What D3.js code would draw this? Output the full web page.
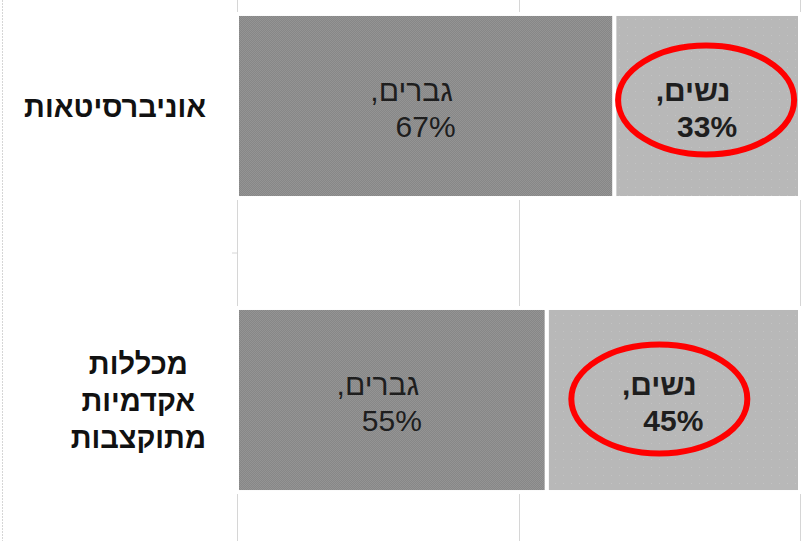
<!DOCTYPE html>
<html lang="he">
<head>
<meta charset="utf-8">
<script src="https://cdn.jsdelivr.net/npm/d3@7"></script>
<style>
  body { margin: 0; background: #fff; }
  svg { display: block; font-family: "Liberation Sans", Arial, sans-serif; }
</style>
</head>
<body>
<div id="chart"></div>
<script>
// data
var categories = ["אוניברסיטאות", "מכללות אקדמיות מתוקצבות"];
var categoryLines = [["אוניברסיטאות"], ["מכללות", "אקדמיות", "מתוקצבות"]];
var seriesNames = ["נשים", "גברים"];
var women = [33, 45];
var men = [67, 55];
var xTicks = [0, 50, 100];
// hand-drawn red circles, offset from the women segment centre
var circleOffsets = [{dx: -1, dy: -6}, {dx: -14, dy: -1}];

var width = 808, height = 541;

var svg = d3.select("#chart").append("svg")
    .attr("width", width)
    .attr("height", height);

var defs = svg.append("defs");
var pm = defs.append("pattern").attr("id", "menFill")
    .attr("patternUnits", "userSpaceOnUse").attr("width", 2).attr("height", 2);
pm.append("rect").attr("width", 2).attr("height", 2).attr("fill", "#878787");
pm.append("rect").attr("width", 1).attr("height", 1).attr("fill", "#949494");
pm.append("rect").attr("x", 1).attr("y", 1).attr("width", 1).attr("height", 1).attr("fill", "#949494");

var pw = defs.append("pattern").attr("id", "womenFill")
    .attr("patternUnits", "userSpaceOnUse").attr("width", 8).attr("height", 8);
pw.append("rect").attr("width", 8).attr("height", 8).attr("fill", "#b8b8b8");
pw.append("rect").attr("x", 3).attr("y", 3).attr("width", 1).attr("height", 1).attr("fill", "#c3c3c3");

// scales (right-to-left value axis)
var x = d3.scaleLinear().domain([0, 100]).range([800, 237]);
var y = d3.scaleBand().domain(categories).range([-96, 602])
    .paddingInner(0.374).paddingOuter(0.374);

// chart border on the left
svg.append("line")
    .attr("x1", 2.5).attr("x2", 2.5).attr("y1", 0).attr("y2", height)
    .attr("stroke", "#d6d6d6").attr("stroke-dasharray", "2,1");

// gridlines
svg.append("g").selectAll("line")
    .data(xTicks)
    .enter().append("line")
    .attr("x1", function(d) { return Math.round(x(d)) + 0.5; })
    .attr("x2", function(d) { return Math.round(x(d)) + 0.5; })
    .attr("y1", 0).attr("y2", height)
    .attr("stroke", "#d6d6d6");

// category tick between bands
svg.append("line")
    .attr("x1", 232).attr("x2", 237)
    .attr("y1", (y(categories[0]) + y.bandwidth() + y(categories[1])) / 2)
    .attr("y2", (y(categories[0]) + y.bandwidth() + y(categories[1])) / 2)
    .attr("stroke", "#d6d6d6");

// stacked data
var rows = categories.map(function(c, i) {
  return [
    {cat: c, name: seriesNames[0], value: women[i], x0: 0, x1: women[i], fill: "url(#womenFill)", bold: true},
    {cat: c, name: seriesNames[1], value: men[i], x0: women[i], x1: women[i] + men[i], fill: "url(#menFill)", bold: false}
  ];
});
var segs = d3.merge(rows);

svg.append("g").selectAll("rect")
    .data(segs)
    .enter().append("rect")
    .attr("x", function(d) { return x(d.x1); })
    .attr("y", function(d) { return y(d.cat); })
    .attr("width", function(d) { return x(d.x0) - x(d.x1); })
    .attr("height", y.bandwidth())
    .attr("fill", function(d) { return d.fill; })
    .attr("stroke", "#fff")
    .attr("stroke-width", 4);

// data labels
var lab = svg.append("g").selectAll("g")
    .data(segs)
    .enter().append("g")
    .attr("transform", function(d) {
      return "translate(" + (x(d.x0) + x(d.x1)) / 2 + "," + (y(d.cat) + y.bandwidth() / 2) + ")";
    })
    .attr("fill", "#1e1e1e")
    .style("font-size", "30px")
    .style("font-weight", function(d) { return d.bold ? "bold" : "normal"; });

lab.append("text")
    .attr("direction", "rtl")
    .attr("text-anchor", "middle")
    .attr("x", -14).attr("y", -5)
    .text(function(d) { return d.name + ","; });
lab.append("text")
    .attr("text-anchor", "middle")
    .attr("x", 0).attr("y", 31)
    .text(function(d) { return d.value + "%"; });

// red circles round the women labels
svg.append("g").selectAll("ellipse")
    .data(segs.filter(function(d) { return d.name === seriesNames[0]; }))
    .enter().append("ellipse")
    .attr("cx", function(d, i) { return (x(d.x0) + x(d.x1)) / 2 + circleOffsets[i].dx; })
    .attr("cy", function(d, i) { return y(d.cat) + y.bandwidth() / 2 + circleOffsets[i].dy; })
    .attr("rx", 88).attr("ry", 54.5)
    .attr("fill", "none")
    .attr("stroke", "#ff0000")
    .attr("stroke-width", 6);

// category labels, block right-aligned, lines centred inside
var lineH = 37;
categories.forEach(function(c, i) {
  var g = svg.append("g")
      .style("font-size", "29px")
      .style("font-weight", "bold")
      .attr("fill", "#111");
  var lines = categoryLines[i];
  var cy = y(c) + y.bandwidth() / 2;
  var texts = lines.map(function(t, j) {
    return g.append("text")
        .attr("direction", "rtl")
        .attr("text-anchor", "middle")
        .attr("y", cy + 11 + (j - (lines.length - 1) / 2) * lineH)
        .text(t);
  });
  var maxW = d3.max(texts, function(t) { return t.node().getComputedTextLength(); });
  texts.forEach(function(t) { t.attr("x", 206 - maxW / 2); });
});
</script>
</body>
</html>
